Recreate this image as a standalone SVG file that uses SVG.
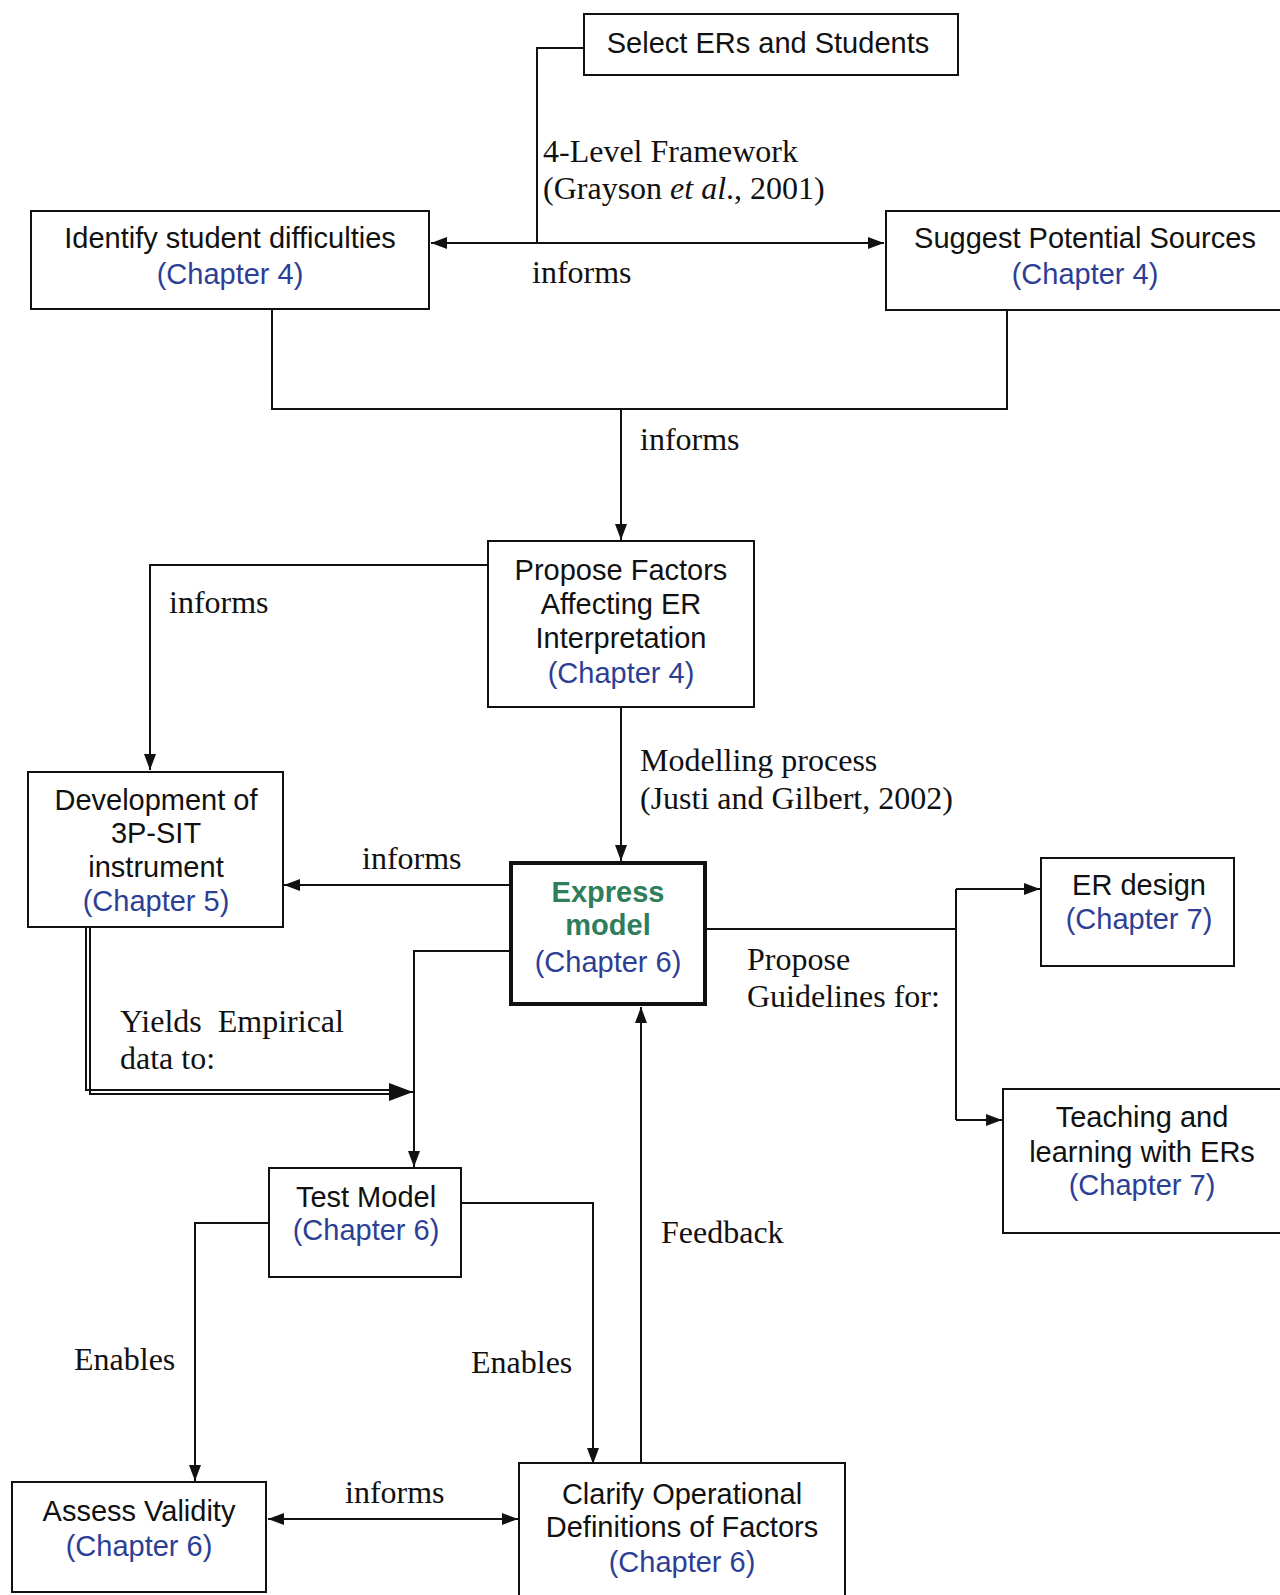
<svg xmlns="http://www.w3.org/2000/svg" width="1280" height="1595" viewBox="0 0 1280 1595">
  <style>
    .box { fill: #ffffff; stroke: #111111; stroke-width: 2; }
    .box-strong { fill: #ffffff; stroke: #111111; stroke-width: 4; }
    .t { font-family: "Liberation Sans", Arial, sans-serif; font-size: 29px; fill: #111111; text-anchor: middle; }
    .ch { fill: #2c3f95; }
    .gr { fill: #2e7d5b; font-weight: bold; }
    .lbl { font-family: "Liberation Serif", "Times New Roman", serif; font-size: 32px; fill: #111111; }
    .ln { fill: none; stroke: #111111; stroke-width: 2; }
  </style>
  <defs>
    <marker id="arr" viewBox="0 0 16 12" refX="16" refY="6" markerWidth="16" markerHeight="12" markerUnits="userSpaceOnUse" orient="auto-start-reverse">
      <path d="M0,0 L16,6 L0,12 Z" fill="#111111"/>
    </marker>
    <marker id="arrbig" viewBox="0 0 24 18" refX="24" refY="9" markerWidth="24" markerHeight="18" markerUnits="userSpaceOnUse" orient="auto">
      <path d="M0,0 L24,9 L0,18 Z" fill="#111111"/>
    </marker>
  </defs>
  <rect width="1280" height="1595" fill="#ffffff"/>

  <!-- connectors -->
  <g id="connectors">
    <!-- Select ERs and Students down to the informs link -->
    <path class="ln" d="M584,48 H537 V243"/>
    <!-- Identify <-> Suggest -->
    <path class="ln" d="M431,243 H884" stroke-width="2.5" marker-start="url(#arr)" marker-end="url(#arr)"/>
    <!-- both chapter-4 nodes feed Propose Factors -->
    <path class="ln" d="M272,309 V409 H1007 V310"/>
    <path class="ln" d="M621,409 V540" marker-end="url(#arr)"/>
    <!-- Propose Factors -> Development -->
    <path class="ln" d="M488,565 H150 V770" marker-end="url(#arr)"/>
    <!-- Propose Factors -> Express model -->
    <path class="ln" d="M621,707 V861" marker-end="url(#arr)"/>
    <!-- Express model -> Development -->
    <path class="ln" d="M509,885 H284" marker-end="url(#arr)"/>
    <!-- Express model -> guideline targets -->
    <path class="ln" d="M707,929 H956"/>
    <path class="ln" d="M956,889 V1120"/>
    <path class="ln" d="M956,889 H1040" marker-end="url(#arr)"/>
    <path class="ln" d="M956,1120 H1002" marker-end="url(#arr)"/>
    <!-- Express model -> Test Model -->
    <path class="ln" d="M509,951 H414 V1167" marker-end="url(#arr)"/>
    <!-- Development yields data (double line) -->
    <path class="ln" d="M86,927 V1090 H392"/>
    <path class="ln" d="M90,927 V1094 H392"/>
    <path class="ln" d="M390,1092 H413" marker-end="url(#arrbig)" stroke-width="4"/>
    <!-- Test Model -> Assess Validity -->
    <path class="ln" d="M269,1223 H195 V1481" marker-end="url(#arr)"/>
    <!-- Test Model -> Clarify -->
    <path class="ln" d="M461,1203 H593 V1464" marker-end="url(#arr)"/>
    <!-- Clarify feedback to Express model -->
    <path class="ln" d="M641,1463 V1007" marker-end="url(#arr)"/>
    <!-- Assess <-> Clarify -->
    <path class="ln" d="M268,1519 H518" stroke-width="3" marker-start="url(#arr)" marker-end="url(#arr)"/>
  </g>

  <!-- connector labels -->
  <g id="labels">
    <text class="lbl" x="543" y="162">4-Level Framework</text>
    <text class="lbl" x="543" y="199">(Grayson <tspan font-style="italic">et al</tspan>., 2001)</text>
    <text class="lbl" x="532" y="283">informs</text>
    <text class="lbl" x="640" y="450">informs</text>
    <text class="lbl" x="169" y="613">informs</text>
    <text class="lbl" x="640" y="771">Modelling process</text>
    <text class="lbl" x="640" y="809">(Justi and Gilbert, 2002)</text>
    <text class="lbl" x="362" y="869">informs</text>
    <text class="lbl" x="747" y="970">Propose</text>
    <text class="lbl" x="747" y="1007">Guidelines for:</text>
    <text class="lbl" x="120" y="1032" xml:space="preserve">Yields  Empirical</text>
    <text class="lbl" x="120" y="1069">data to:</text>
    <text class="lbl" x="661" y="1243">Feedback</text>
    <text class="lbl" x="74" y="1370">Enables</text>
    <text class="lbl" x="471" y="1373">Enables</text>
    <text class="lbl" x="345" y="1503">informs</text>
  </g>

  <g id="select">
    <rect class="box" x="584" y="14" width="374" height="61"/>
    <text class="t" x="768" y="53">Select ERs and Students</text>
  </g>

  <g id="identify">
    <rect class="box" x="31" y="211" width="398" height="98"/>
    <text class="t" x="230" y="248">Identify student difficulties</text>
    <text class="t ch" x="230" y="284">(Chapter 4)</text>
  </g>

  <g id="suggest">
    <rect class="box" x="886" y="211" width="396" height="99"/>
    <text class="t" x="1085" y="248">Suggest Potential Sources</text>
    <text class="t ch" x="1085" y="284">(Chapter 4)</text>
  </g>

  <g id="propose-factors">
    <rect class="box" x="488" y="541" width="266" height="166"/>
    <text class="t" x="621" y="580">Propose Factors</text>
    <text class="t" x="621" y="614">Affecting ER</text>
    <text class="t" x="621" y="648">Interpretation</text>
    <text class="t ch" x="621" y="683">(Chapter 4)</text>
  </g>

  <g id="development">
    <rect class="box" x="28" y="772" width="255" height="155"/>
    <text class="t" x="156" y="810">Development of</text>
    <text class="t" x="156" y="843">3P-SIT</text>
    <text class="t" x="156" y="877">instrument</text>
    <text class="t ch" x="156" y="911">(Chapter 5)</text>
  </g>

  <g id="express-model">
    <rect class="box-strong" x="511" y="863" width="194" height="141"/>
    <text class="t gr" x="608" y="902">Express</text>
    <text class="t gr" x="608" y="935">model</text>
    <text class="t ch" x="608" y="972">(Chapter 6)</text>
  </g>

  <g id="er-design">
    <rect class="box" x="1041" y="858" width="193" height="108"/>
    <text class="t" x="1139" y="895">ER design</text>
    <text class="t ch" x="1139" y="929">(Chapter 7)</text>
  </g>

  <g id="teaching">
    <rect class="box" x="1003" y="1089" width="279" height="144"/>
    <text class="t" x="1142" y="1127">Teaching and</text>
    <text class="t" x="1142" y="1162">learning with ERs</text>
    <text class="t ch" x="1142" y="1195">(Chapter 7)</text>
  </g>

  <g id="test-model">
    <rect class="box" x="269" y="1168" width="192" height="109"/>
    <text class="t" x="366" y="1207">Test Model</text>
    <text class="t ch" x="366" y="1240">(Chapter 6)</text>
  </g>

  <g id="assess-validity">
    <rect class="box" x="12" y="1482" width="254" height="110"/>
    <text class="t" x="139" y="1521">Assess Validity</text>
    <text class="t ch" x="139" y="1556">(Chapter 6)</text>
  </g>

  <g id="clarify">
    <rect class="box" x="519" y="1463" width="326" height="140"/>
    <text class="t" x="682" y="1504">Clarify Operational</text>
    <text class="t" x="682" y="1537">Definitions of Factors</text>
    <text class="t ch" x="682" y="1572">(Chapter 6)</text>
  </g>
</svg>
